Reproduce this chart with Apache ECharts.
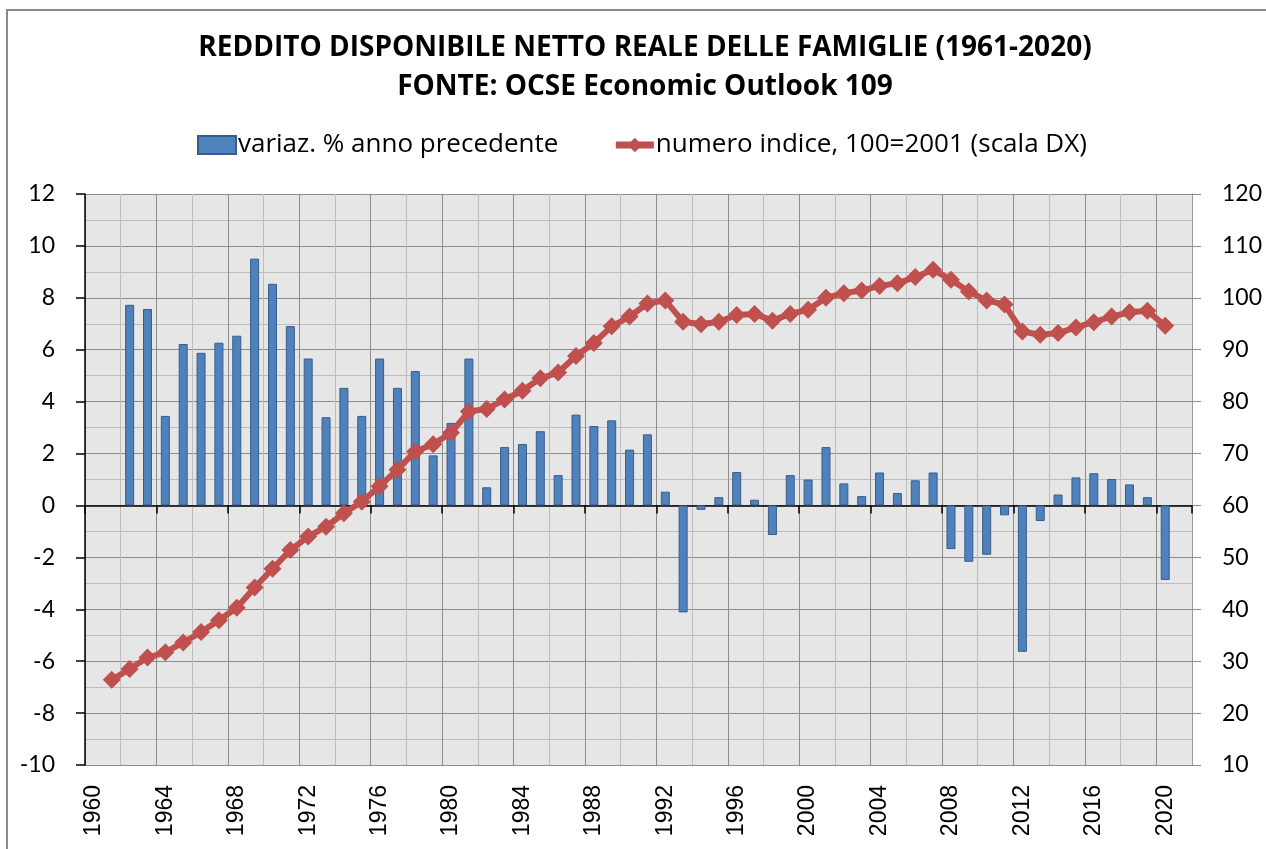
<!DOCTYPE html>
<html>
<head>
<meta charset="utf-8">
<script src="https://cdn.jsdelivr.net/npm/echarts@6/dist/echarts.min.js"></script>
<style>
  html, body { margin: 0; padding: 0; background: #fff; }
  #chart { width: 1266px; height: 849px; }
</style>
</head>
<body>
<div id="chart"></div>
<script>
// anni sull'asse x (1960-2021, etichette ogni 4 anni)
var years = [];
for (var y = 1960; y <= 2021; y++) years.push(String(y));

// variazione % sull'anno precedente (1962-2020)
var variazYears = ['1962','1963','1964','1965','1966','1967','1968','1969','1970','1971',
  '1972','1973','1974','1975','1976','1977','1978','1979','1980','1981',
  '1982','1983','1984','1985','1986','1987','1988','1989','1990','1991',
  '1992','1993','1994','1995','1996','1997','1998','1999','2000','2001',
  '2002','2003','2004','2005','2006','2007','2008','2009','2010','2011',
  '2012','2013','2014','2015','2016','2017','2018','2019','2020'];
var variaz = [7.73, 7.57, 3.45, 6.22, 5.88, 6.27, 6.54, 9.51, 8.54, 6.91,
  5.66, 3.40, 4.53, 3.45, 5.66, 4.53, 5.18, 1.93, 3.18, 5.66,
  0.70, 2.25, 2.37, 2.86, 1.17, 3.50, 3.06, 3.28, 2.15, 2.74,
  0.53, -4.12, -0.17, 0.32, 1.29, 0.22, -1.14, 1.17, 1.00, 2.25,
  0.85, 0.36, 1.27, 0.48, 0.97, 1.27, -1.68, -2.17, -1.90, -0.38,
  -5.64, -0.60, 0.42, 1.08, 1.24, 1.02, 0.81, 0.32, -2.87];

// numero indice, 100 = 2001 (1961-2020)
var indiceYears = ['1961','1962','1963','1964','1965','1966','1967','1968','1969','1970',
  '1971','1972','1973','1974','1975','1976','1977','1978','1979','1980',
  '1981','1982','1983','1984','1985','1986','1987','1988','1989','1990',
  '1991','1992','1993','1994','1995','1996','1997','1998','1999','2000',
  '2001','2002','2003','2004','2005','2006','2007','2008','2009','2010',
  '2011','2012','2013','2014','2015','2016','2017','2018','2019','2020'];
var indice = [26.4, 28.5, 30.7, 31.7, 33.6, 35.6, 37.9, 40.3, 44.2, 47.8,
  51.4, 54.0, 55.9, 58.5, 60.7, 63.7, 66.9, 70.4, 71.8, 74.0,
  78.1, 78.6, 80.4, 82.1, 84.5, 85.6, 88.8, 91.3, 94.5, 96.4,
  98.9, 99.5, 95.4, 94.9, 95.4, 96.7, 96.9, 95.6, 96.9, 97.7,
  100.0, 100.9, 101.4, 102.3, 102.8, 104.0, 105.4, 103.5, 101.2, 99.5,
  98.7, 93.5, 92.9, 93.2, 94.3, 95.3, 96.4, 97.2, 97.5, 94.6];

function alignTo(keys, vals) {
  return years.map(function (yr) {
    var i = keys.indexOf(yr);
    return i < 0 ? null : vals[i];
  });
}

var myChart = echarts.init(document.getElementById('chart'));
var font = '"Open Sans", Lato, sans-serif';
var fontNum = 'Lato, "Open Sans", sans-serif';

var option = {
  animation: false,
  backgroundColor: '#fff',
  textStyle: { fontFamily: font },
  graphic: [{
    type: 'rect',
    shape: { x: 7, y: 10, width: 1300, height: 900 },
    style: { fill: 'none', stroke: '#8a8a8a', lineWidth: 2 },
    silent: true
  }],
  title: {
    text: 'REDDITO DISPONIBILE NETTO REALE DELLE FAMIGLIE (1961-2020)\nFONTE: OCSE Economic Outlook 109',
    left: 640,
    textAlign: 'center',
    top: 24,
    textStyle: { fontFamily: font, fontSize: 28, fontWeight: 'bold', color: '#000', lineHeight: 39 }
  },
  legend: {
    top: 127,
    left: 192,
    itemGap: 54,
    itemWidth: 38,
    itemHeight: 18,
    textStyle: { fontFamily: font, fontSize: 26, color: '#000', padding: [0, 0, 0, -3] },
    data: [
      { name: 'variaz. % anno precedente', icon: 'rect' },
      { name: 'numero indice, 100=2001 (scala DX)', lineStyle: { width: 7 }, itemStyle: { borderWidth: 0 } }
    ]
  },
  grid: {
    left: 85, right: 74, top: 194, bottom: 84,
    show: true, backgroundColor: '#e6e6e6', borderWidth: 0
  },
  xAxis: [
    {
      type: 'category',
      data: years,
      boundaryGap: true,
      position: 'bottom',
      axisLine: { show: false, onZero: false },
      axisTick: { show: false },
      axisLabel: { interval: 3, rotate: 90, margin: 20, fontSize: 23, color: '#000', fontFamily: 'Liberation Sans, Arial, sans-serif' },
      splitLine: { show: true, interval: 1, lineStyle: { color: ['#8c8c8c', '#bdbdbd'], width: 1 } }
    },
    {
      type: 'category',
      data: years,
      boundaryGap: true,
      position: 'top',
      axisLine: { show: true, onZero: true, onZeroAxisIndex: 0, lineStyle: { color: '#000', width: 1.5 } },
      axisTick: { show: true, interval: 3, inside: true, length: 8, lineStyle: { color: '#000', width: 1.5 } },
      axisLabel: { show: false },
      splitLine: { show: false }
    }
  ],
  yAxis: [
    {
      type: 'value',
      min: -10, max: 12, interval: 2,
      position: 'left',
      axisLine: { show: true, lineStyle: { color: '#000', width: 1.5 } },
      axisTick: { show: true, length: 9, lineStyle: { color: '#000', width: 1.5 } },
      axisLabel: { fontSize: 23, color: '#000', margin: 30, fontFamily: fontNum },
      splitLine: { show: true, lineStyle: { color: '#8c8c8c', width: 1 } },
      minorTick: { show: false, splitNumber: 2 },
      minorSplitLine: { show: true, lineStyle: { color: '#bdbdbd', width: 1 } }
    },
    {
      type: 'value',
      min: 10, max: 120, interval: 10,
      position: 'right',
      axisLine: { show: true, lineStyle: { color: '#9a9a9a', width: 1 } },
      axisTick: { show: true, length: 9, lineStyle: { color: '#8c8c8c', width: 1 } },
      axisLabel: { fontSize: 23, color: '#000', margin: 30, fontFamily: fontNum },
      splitLine: { show: false }
    }
  ],
  series: [
    {
      name: 'variaz. % anno precedente',
      type: 'bar',
      xAxisIndex: 0,
      yAxisIndex: 0,
      barWidth: 9,
      itemStyle: { color: '#4f81bd', borderColor: '#385d8a', borderWidth: 1 },
      data: alignTo(variazYears, variaz),
      z: 2
    },
    {
      name: 'numero indice, 100=2001 (scala DX)',
      type: 'line',
      xAxisIndex: 0,
      yAxisIndex: 1,
      symbol: 'diamond',
      symbolSize: [18, 18],
      showAllSymbol: true,
      connectNulls: false,
      lineStyle: { color: '#c0504d', width: 6 },
      itemStyle: { color: '#c0504d' },
      data: alignTo(indiceYears, indice),
      z: 3
    }
  ]
};

myChart.setOption(option);
</script>
</body>
</html>
